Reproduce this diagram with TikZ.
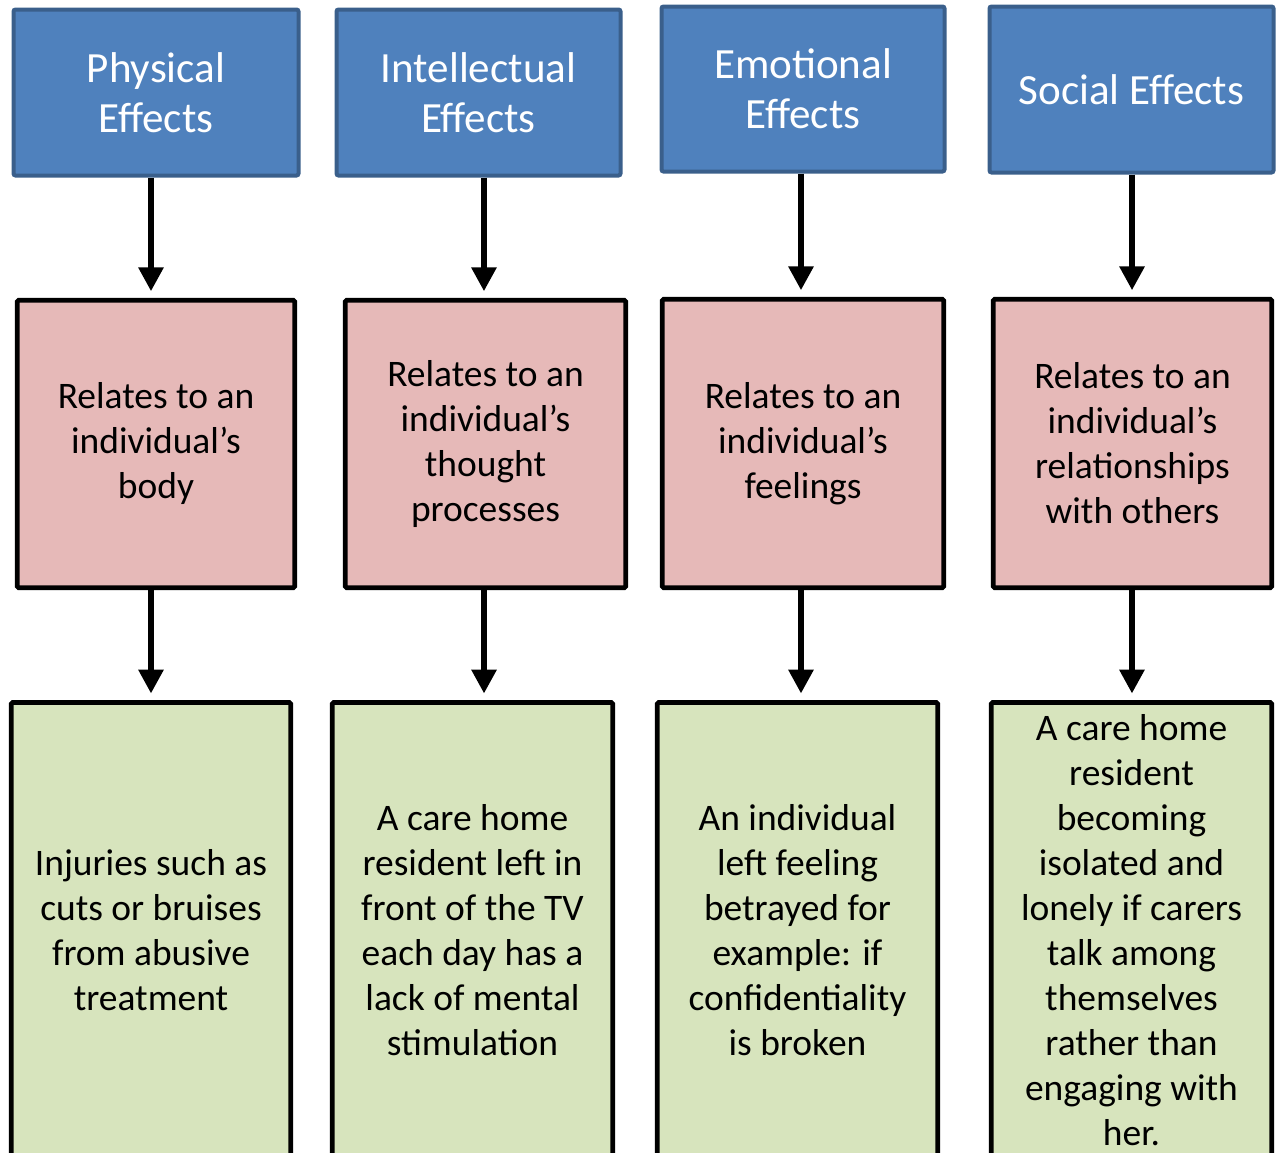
\documentclass[tikz,border=0pt]{standalone}
\usepackage{fontspec}
\setmainfont{Carlito}
\usetikzlibrary{arrows.meta,calc}
\definecolor{bluefill}{HTML}{4F81BD}
\definecolor{blueedge}{HTML}{3A5F8B}
\definecolor{pinkfill}{HTML}{E6B9B8}
\definecolor{greenfill}{HTML}{D7E4BD}
\tikzset{
  topbox/.style={draw=blueedge, fill=bluefill, line width=3pt, rounded corners=1.5pt, inner sep=0pt,
    align=center, text=white, font=\fontsize{32.3}{37.5}\selectfont},
  midbox/.style={draw=black, fill=pinkfill, line width=3.4pt, rounded corners=1pt, inner sep=0pt,
    align=center, text=black, font=\fontsize{28.1}{33.75}\selectfont},
  lowbox/.style={draw=black, fill=greenfill, line width=3.4pt, rounded corners=1pt, inner sep=0pt,
    align=center, text=black, font=\fontsize{28.1}{33.75}\selectfont},
  arr/.style={line width=4.5pt, -{Triangle[width=18pt,length=18pt]}, shorten >=5pt},
}
\begin{document}
\begin{tikzpicture}[x=0.75pt,y=-0.75pt]
\useasboundingbox (0,0) rectangle (1279,1153);
% top row
\node[topbox, minimum width=285*0.75pt, minimum height=166*0.75pt] (b1) at (156,92.5) {Physical\\Effects};
\node[topbox, minimum width=284*0.75pt, minimum height=166*0.75pt] (b2) at (478.5,92.5) {Intellectual\\Effects};
\node[topbox, minimum width=283*0.75pt, minimum height=165*0.75pt] (b3) at (803,89) {Emotional\\Effects};
\node[topbox, minimum width=284*0.75pt, minimum height=166*0.75pt] (b4) at (1131.5,89.5) {Social Effects};
% middle row
\node[midbox, minimum width=277.5*0.75pt, minimum height=287.5*0.75pt] (p1) at (156,444) {Relates to an\\individual’s\\body};
\node[midbox, minimum width=280.5*0.75pt, minimum height=287.5*0.75pt] (p2) at (485.5,444) {Relates to an\\individual’s\\thought\\processes};
\node[midbox, minimum width=281.5*0.75pt, minimum height=288.5*0.75pt] (p3) at (803,443.5) {Relates to an\\individual’s\\feelings};
\node[midbox, minimum width=278.5*0.75pt, minimum height=288.5*0.75pt] (p4) at (1132.5,443.5) {Relates to an\\individual’s\\relationships\\with others};
% bottom row
\node[lowbox, minimum width=279.5*0.75pt, minimum height=455*0.75pt] (g1) at (151,930) {Injuries such as\\cuts or bruises\\from abusive\\treatment};
\node[lowbox, minimum width=280.5*0.75pt, minimum height=455*0.75pt] (g2) at (472.5,930) {A care home\\resident left in\\front of the TV\\each day has a\\lack of mental\\stimulation};
\node[lowbox, minimum width=280.5*0.75pt, minimum height=455*0.75pt] (g3) at (797.5,930) {An individual\\left feeling\\betrayed for\\example: if\\confidentiality\\is broken};
\node[lowbox, minimum width=280.5*0.75pt, minimum height=455*0.75pt] (g4) at (1131.5,930) {A care home\\resident\\becoming\\isolated and\\lonely if carers\\talk among\\themselves\\rather than\\engaging with\\her.};
% arrows
\draw[arr] ([xshift=-3.75pt]b1.south) -- ([xshift=-3.75pt]b1.south |- p1.north);
\draw[arr] ([xshift=4.1pt]b2.south) -- ([xshift=4.1pt]b2.south |- p2.north);
\draw[arr] ([xshift=-1.5pt]b3.south) -- ([xshift=-1.5pt]b3.south |- p3.north);
\draw[arr] ([xshift=0.4pt]b4.south) -- ([xshift=0.4pt]b4.south |- p4.north);
\draw[arr] ([xshift=-3.75pt]p1.south) -- ([xshift=-3.75pt]p1.south |- g1.north);
\draw[arr] ([xshift=-1.1pt]p2.south) -- ([xshift=-1.1pt]p2.south |- g2.north);
\draw[arr] ([xshift=-1.5pt]p3.south) -- ([xshift=-1.5pt]p3.south |- g3.north);
\draw[arr] ([xshift=-0.4pt]p4.south) -- ([xshift=-0.4pt]p4.south |- g4.north);
\end{tikzpicture}
\end{document}
